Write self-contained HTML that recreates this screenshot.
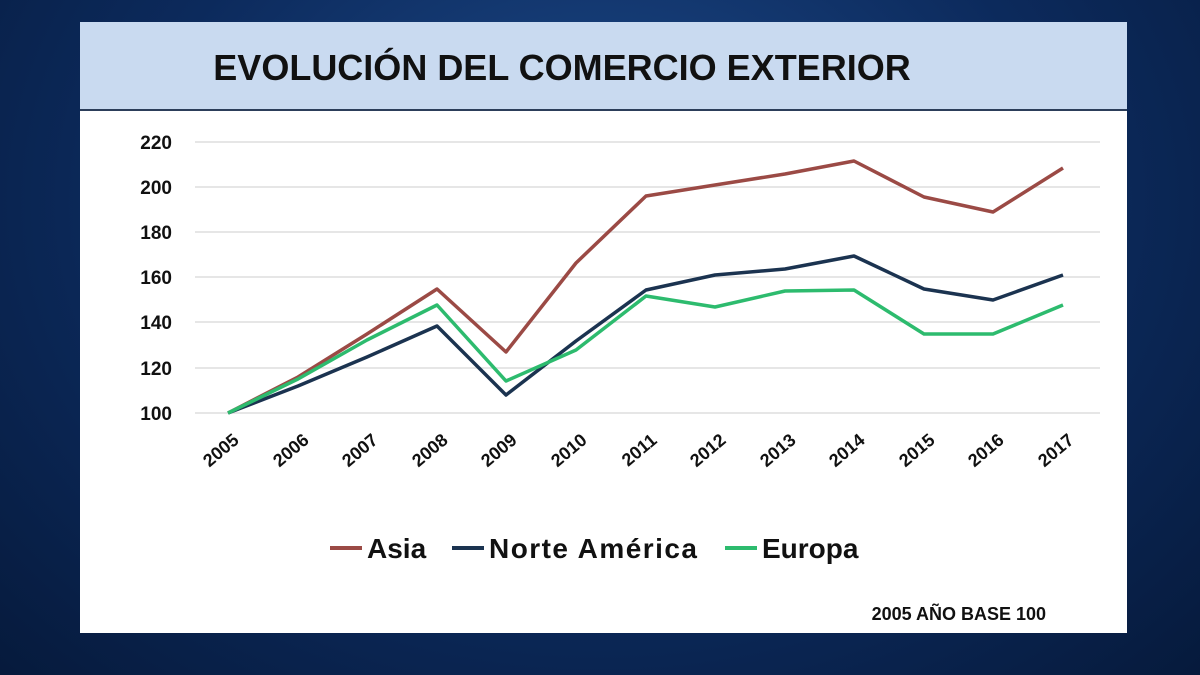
<!DOCTYPE html>
<html><head><meta charset="utf-8"><style>
body{margin:0;width:1200px;height:675px;overflow:hidden;background:radial-gradient(ellipse at 50% 30%,#1d4a8a 0%,#0c2a5c 55%,#061a3c 100%);font-family:"Liberation Sans",sans-serif;}
</style></head><body>
<svg width="1200" height="675" style="position:absolute;left:0;top:0">
<rect x="80" y="22" width="1047" height="611" fill="#fff"/>
<rect x="80" y="22" width="1047" height="88" fill="#c9daf0"/>
<line x1="80" y1="110" x2="1127" y2="110" stroke="#2c3e5a" stroke-width="2"/>
<text x="562" y="80" text-anchor="middle" font-size="36" font-weight="bold" fill="#111">EVOLUCIÓN DEL COMERCIO EXTERIOR</text>
<g stroke="#ddd" stroke-width="1.5">
<line x1="195" y1="142" x2="1100" y2="142"/><line x1="195" y1="187" x2="1100" y2="187"/>
<line x1="195" y1="232" x2="1100" y2="232"/><line x1="195" y1="277" x2="1100" y2="277"/>
<line x1="195" y1="322" x2="1100" y2="322"/><line x1="195" y1="368" x2="1100" y2="368"/>
<line x1="195" y1="413" x2="1100" y2="413"/></g>
<g font-size="19" font-weight="bold" fill="#111" text-anchor="end">
<text x="172" y="149">220</text><text x="172" y="194">200</text><text x="172" y="239">180</text>
<text x="172" y="284">160</text><text x="172" y="329">140</text><text x="172" y="375">120</text><text x="172" y="420">100</text></g>
<g font-size="18" font-weight="bold" fill="#111" text-anchor="end">
<text transform="translate(240,442) rotate(-40)">2005</text><text transform="translate(310,442) rotate(-40)">2006</text>
<text transform="translate(379,442) rotate(-40)">2007</text><text transform="translate(449,442) rotate(-40)">2008</text>
<text transform="translate(518,442) rotate(-40)">2009</text><text transform="translate(588,442) rotate(-40)">2010</text>
<text transform="translate(658,442) rotate(-40)">2011</text><text transform="translate(727,442) rotate(-40)">2012</text>
<text transform="translate(797,442) rotate(-40)">2013</text><text transform="translate(866,442) rotate(-40)">2014</text>
<text transform="translate(936,442) rotate(-40)">2015</text><text transform="translate(1005,442) rotate(-40)">2016</text>
<text transform="translate(1075,442) rotate(-40)">2017</text></g>
<g fill="none" stroke-width="3.5" stroke-linejoin="round">
<polyline stroke="#9b4a45" points="228,413 298,377 367,334 437,289 506,352 576,263 646,196 715,185 785,174 854,161 924,197 993,212 1063,168"/>
<polyline stroke="#1b3350" points="228,413 298,386 367,357 437,326 506,395 576,341 646,290 715,275 785,269 854,256 924,289 993,300 1063,275"/>
<polyline stroke="#2dbb6e" points="228,413 298,379 367,340 437,305 506,381 576,350 646,296 715,307 785,291 854,290 924,334 993,334 1063,305"/>
</g>
<g font-size="28" font-weight="bold" fill="#111">
<line x1="330" y1="548" x2="362" y2="548" stroke="#9b4a45" stroke-width="4"/><text x="367" y="558">Asia</text>
<line x1="452" y1="548" x2="484" y2="548" stroke="#1b3350" stroke-width="4"/><text x="489" y="558" textLength="208">Norte América</text>
<line x1="725" y1="548" x2="757" y2="548" stroke="#2dbb6e" stroke-width="4"/><text x="762" y="558">Europa</text></g>
<text x="1046" y="620" text-anchor="end" font-size="18" font-weight="bold" fill="#111">2005 AÑO BASE 100</text>
</svg>
</body></html>
